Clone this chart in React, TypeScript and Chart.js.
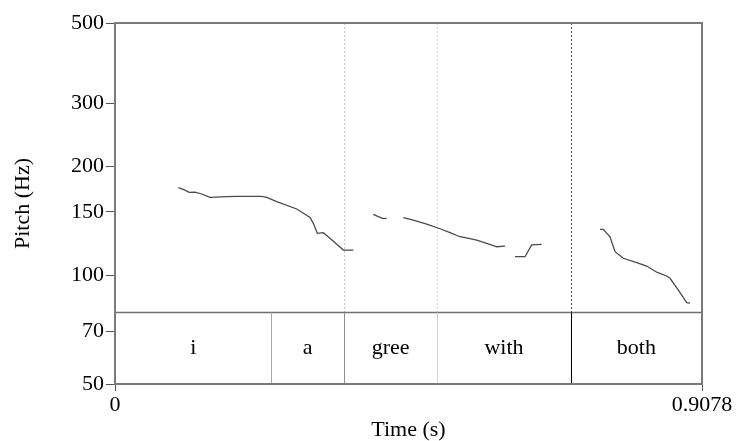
import React, { useEffect, useRef } from "react";
import { Chart, registerables } from "chart.js";

Chart.register(...registerables);

// ---- data ----
const timeMin = 0;
const timeMax = 0.9078;
const pitchMin = 50;
const pitchMax = 500;
const yTickValues = [50, 70, 100, 150, 200, 300, 500];
const xTickValues = [0, 0.9078];
const xTickLabels = ["0", "0.9078"];

// pitch contour (null = unvoiced gap)
const pitchTimes = [
  0.0979, 0.1056, 0.1149, 0.1237, 0.1341, 0.1469, 0.1727, 0.1882, 0.2269, 0.2346,
  0.2501, 0.281, 0.3016, 0.3067, 0.3129, 0.3221, 0.3325, 0.3531, 0.3685,
  0.37,
  0.3995, 0.4072, 0.4149, 0.4202,
  0.43,
  0.4459, 0.4613, 0.4821, 0.5026, 0.5181, 0.5336, 0.549, 0.5594, 0.5749, 0.5903, 0.6032,
  0.61,
  0.6186, 0.6341, 0.6444, 0.6599,
  0.7,
  0.7501, 0.7552, 0.7655, 0.7733, 0.7861, 0.8068, 0.8223, 0.8378, 0.8532, 0.8583,
  0.8712, 0.8842, 0.8893,
];
const pitchHz = [
  175.0, 173.1, 169.8, 170.1, 168.0, 164.5, 165.2, 165.4, 165.4, 164.5,
  160.0, 152.7, 144.7, 139.3, 130.7, 131.3, 126.6, 117.5, 117.5,
  null,
  147.6, 145.4, 143.5, 143.8,
  null,
  144.4, 142.3, 138.7, 134.6, 131.3, 127.9, 126.3, 125.2, 122.6, 120.0, 120.5,
  null,
  112.6, 112.6, 121.4, 121.9,
  null,
  134.1, 134.1, 127.9, 116.3, 111.5, 108.4, 106.1, 102.0, 99.6, 98.1,
  91.0, 84.0, 83.8,
];

// text grid tier
const tierBoundaries = [0, 0.242, 0.3542, 0.4985, 0.7048, 0.9078];
const tierLabels = ["i", "a", "gree", "with", "both"];
const tierTopHz = 79;

const FONT = "'Liberation Serif', 'Times New Roman', serif";

const tierPlugin = {
  id: "tierPlugin",
  beforeDatasetsDraw(chart: any) {
    const { ctx, chartArea, scales } = chart;
    const x = scales.x;
    const y = scales.y;
    const yT = y.getPixelForValue(tierTopHz);
    const upperColors = [null, null, "#c4c4c4", "#dadada", "#4a4a4a", null];
    ctx.save();
    ctx.lineWidth = 1;
    ctx.setLineDash([2, 2]);
    tierBoundaries.forEach((b, i) => {
      const c = upperColors[i];
      if (!c) return;
      const px = Math.round(x.getPixelForValue(b)) + 0.5;
      ctx.strokeStyle = c;
      ctx.beginPath();
      ctx.moveTo(px, chartArea.top);
      ctx.lineTo(px, yT);
      ctx.stroke();
    });
    ctx.restore();
  },
  afterDraw(chart: any) {
    const { ctx, chartArea, scales } = chart;
    const x = scales.x;
    const y = scales.y;
    const { left, right, top, bottom } = chartArea;
    const yT = Math.round(y.getPixelForValue(tierTopHz)) + 0.5;
    const tierColors = [null, "#a8a8a8", "#8c8c8c", "#d0d0d0", "#000000", null];
    ctx.save();
    // tier top line
    ctx.strokeStyle = "#707070";
    ctx.lineWidth = 1.5;
    ctx.beginPath();
    ctx.moveTo(left, yT);
    ctx.lineTo(right, yT);
    ctx.stroke();
    // tier boundaries
    ctx.lineWidth = 1;
    tierBoundaries.forEach((b, i) => {
      const c = tierColors[i];
      if (!c) return;
      const px = Math.round(x.getPixelForValue(b)) + 0.5;
      ctx.strokeStyle = c;
      ctx.beginPath();
      ctx.moveTo(px, yT);
      ctx.lineTo(px, bottom);
      ctx.stroke();
    });
    // tier labels
    ctx.fillStyle = "#000";
    ctx.font = `22px ${FONT}`;
    ctx.textAlign = "center";
    ctx.textBaseline = "middle";
    const cy = (yT + bottom) / 2;
    tierLabels.forEach((lab, i) => {
      const cx = (x.getPixelForValue(tierBoundaries[i]) + x.getPixelForValue(tierBoundaries[i + 1])) / 2;
      ctx.fillText(lab, cx, cy);
    });
    // frame
    ctx.strokeStyle = "#7a7a7a";
    ctx.lineWidth = 2;
    ctx.strokeRect(left, top, right - left, bottom - top);
    ctx.restore();
  },
};

export default function App() {
  const ref = useRef<HTMLCanvasElement | null>(null);

  useEffect(() => {
    if (!ref.current) return;
    const data = pitchTimes.map((t, i) => ({ x: t, y: pitchHz[i] }));
    const chart = new Chart(ref.current, {
      type: "line",
      data: {
        datasets: [
          {
            data: data as any,
            borderColor: "#4a4a4a",
            borderWidth: 1.3,
            pointRadius: 0,
            spanGaps: false,
            tension: 0,
          },
        ],
      },
      options: {
        animation: false,
        responsive: false,
        events: [],
        layout: { padding: { top: 23, right: 39, bottom: 0, left: 0 } },
        plugins: {
          legend: { display: false },
          tooltip: { enabled: false },
        },
        scales: {
          x: {
            type: "linear",
            min: timeMin,
            max: timeMax,
            afterBuildTicks: (scale: any) => {
              scale.ticks = xTickValues.map((v) => ({ value: v }));
            },
            afterFit: (scale: any) => {
              scale.height = 57;
            },
            ticks: {
              autoSkip: false,
              maxRotation: 0,
              padding: 1,
              color: "#000",
              font: { family: FONT, size: 22 },
              callback: (v: any) => xTickLabels[xTickValues.indexOf(Number(v))] ?? "",
            },
            grid: {
              drawOnChartArea: false,
              drawTicks: true,
              tickLength: 7,
              color: "#555",
            },
            border: { display: false },
            title: {
              display: true,
              text: "Time (s)",
              color: "#000",
              font: { family: FONT, size: 22, lineHeight: 1 },
              padding: { top: 0, bottom: 0 },
            },
          },
          y: {
            type: "logarithmic",
            min: pitchMin,
            max: pitchMax,
            afterBuildTicks: (scale: any) => {
              scale.ticks = yTickValues.map((v) => ({ value: v }));
            },
            afterFit: (scale: any) => {
              scale.width = 115;
            },
            ticks: {
              autoSkip: false,
              padding: 2,
              color: "#000",
              font: { family: FONT, size: 22 },
              callback: (v: any) => String(v),
            },
            grid: {
              drawOnChartArea: false,
              drawTicks: true,
              tickLength: 9,
              color: "#555",
            },
            border: { display: false },
            title: {
              display: true,
              text: "Pitch (Hz)",
              color: "#000",
              font: { family: FONT, size: 22, lineHeight: 1 },
              padding: { top: 12, bottom: 0 },
            },
          },
        },
      },
      plugins: [tierPlugin],
    });
    return () => chart.destroy();
  }, []);

  return (
    <div style={{ position: "absolute", left: 0, top: 0, width: 741, height: 441, background: "#fff" }}>
      <canvas ref={ref} width={741} height={441} style={{ display: "block" }} />
    </div>
  );
}
